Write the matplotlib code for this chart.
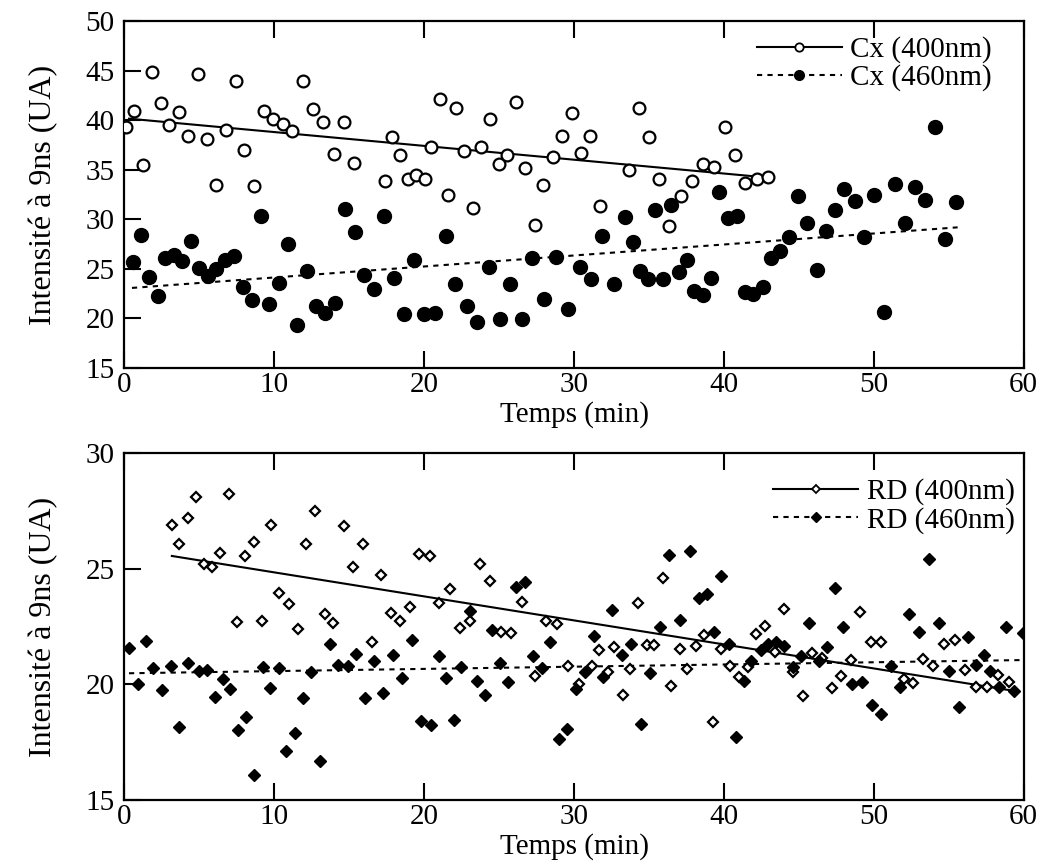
import matplotlib
matplotlib.use('Agg')
import matplotlib.pyplot as plt
from matplotlib.lines import Line2D

plt.rcParams['font.family'] = ['Liberation Serif', 'DejaVu Serif']
plt.rcParams['mathtext.fontset'] = 'stix'

# --- données ---
# Cx 400 nm (cercles vides)
cx400_t = [0.1, 0.63, 1.25, 1.81, 2.41, 2.99, 3.65, 4.21, 4.88, 5.48, 6.1, 6.75, 7.41, 7.99,
           8.63, 9.32, 9.92, 10.59, 11.21, 11.92, 12.59, 13.25, 13.97, 14.65, 15.32, 17.37,
           17.88, 18.41, 18.92, 19.48, 20.03, 20.48, 21.08, 21.59, 22.15, 22.65, 23.25, 23.81,
           24.37, 24.97, 25.55, 26.15, 26.72, 27.37, 27.92, 28.59, 29.21, 29.85, 30.45, 31.08,
           31.75, 33.7, 34.37, 35.03, 35.7, 36.37, 37.15, 37.85, 38.59, 39.37, 40.08, 40.77,
           41.43, 42.19, 42.97]
cx400_i = [39.26, 40.94, 35.5, 44.83, 41.7, 39.5, 40.87, 38.42, 44.66, 38.08, 33.5, 39.02, 43.99,
           36.94, 33.32, 40.94, 40.13, 39.63, 38.92, 43.99, 41.11, 39.8, 36.61, 39.77, 35.67,
           33.82, 38.35, 36.44, 34.06, 34.49, 34.06, 37.34, 42.15, 32.48, 41.21, 36.84, 31.14,
           37.34, 40.13, 35.6, 36.44, 41.87, 35.17, 29.46, 33.5, 36.33, 38.42, 40.7, 36.68,
           38.42, 31.3, 35.0, 41.21, 38.35, 34.06, 29.36, 32.38, 33.89, 35.6, 35.25, 39.29,
           36.5, 33.7, 34.06, 34.22]

# Cx 460 nm (cercles pleins)
cx460_t = [0.55, 1.08, 1.63, 2.21, 2.7, 3.3, 3.81, 4.41, 4.99, 5.55, 6.1, 6.7, 7.32, 7.88, 8.48,
           9.1, 9.65, 10.32, 10.88, 11.52, 12.15, 12.77, 13.37, 14.03, 14.7, 15.37, 15.97, 16.63,
           17.3, 17.97, 18.63, 19.3, 19.99, 20.7, 21.43, 22.08, 22.85, 23.55, 24.3, 25.03, 25.75,
           26.5, 27.21, 28.03, 28.81, 29.59, 30.39, 31.15, 31.88, 32.7, 33.43, 33.92, 34.41,
           34.95, 35.43, 35.97, 36.48, 36.99, 37.55, 38.03, 38.59, 39.15, 39.7, 40.25, 40.85,
           41.4, 41.97, 42.59, 43.15, 43.75, 44.32, 44.92, 45.52, 46.19, 46.81, 47.43, 48.03,
           48.72, 49.37, 50.03, 50.7, 51.41, 52.08, 52.75, 53.41, 54.1, 54.77, 55.48]
cx460_i = [25.66, 28.38, 24.19, 22.24, 26.1, 26.44, 25.77, 27.77, 25.1, 24.32, 25.0, 25.93, 26.26,
           23.18, 21.9, 30.29, 21.5, 23.59, 27.54, 19.32, 24.82, 21.23, 20.56, 21.6, 31.04, 28.72,
           24.35, 22.98, 30.29, 24.09, 20.46, 25.93, 20.46, 20.5, 28.28, 23.5, 21.23, 19.66, 25.16,
           19.9, 23.5, 19.9, 26.1, 21.97, 26.2, 20.97, 25.2, 24.0, 28.35, 23.44, 30.19, 27.68,
           24.82, 24.02, 30.97, 24.02, 31.47, 24.65, 25.86, 22.74, 22.4, 24.09, 32.75, 30.12,
           30.29, 22.68, 22.48, 23.18, 26.1, 26.77, 28.22, 32.31, 29.63, 24.92, 28.78, 30.97,
           33.08, 31.8, 28.25, 32.48, 20.63, 33.59, 29.63, 33.21, 31.9, 39.29, 28.05, 31.75]

# RD 400 nm (losanges vides)
rd400_t = [3.16, 3.67, 4.23, 4.78, 5.32, 5.87, 6.39, 6.99, 7.5, 8.06, 8.66, 9.18, 9.8, 10.33,
           10.96, 11.58, 12.14, 12.74, 13.37, 13.93, 14.64, 15.26, 15.91, 16.53, 17.14, 17.76,
           18.38, 19.05, 19.65, 20.39, 21.02, 21.73, 22.4, 23.04, 23.71, 24.38, 25.12, 25.79,
           26.52, 27.41, 28.13, 28.84, 29.62, 30.31, 31.2, 31.69, 32.25, 32.7, 33.28, 33.75,
           34.3, 34.86, 35.37, 35.93, 36.44, 37.04, 37.56, 38.11, 38.68, 39.28, 39.83, 40.43,
           41.02, 41.6, 42.17, 42.73, 43.4, 44.0, 44.63, 45.25, 45.9, 46.52, 47.19, 47.81,
           48.46, 49.08, 49.82, 50.47, 52.03, 52.65, 53.32, 53.95, 54.66, 55.4, 56.11, 56.82,
           57.56, 58.29, 59.01]
rd400_i = [26.89, 26.07, 27.2, 28.11, 25.19, 25.08, 25.66, 28.21, 22.71, 25.55, 26.17, 22.75,
           26.89, 23.93, 23.46, 22.39, 26.07, 27.49, 23.03, 22.64, 26.85, 25.06, 26.07, 21.82,
           24.73, 23.1, 22.74, 23.36, 25.62, 25.55, 23.5, 24.12, 22.45, 22.74, 25.2, 24.48,
           22.27, 22.22, 23.57, 20.36, 22.75, 22.59, 20.8, 20.0, 20.8, 21.48, 20.54, 21.6,
           19.54, 20.66, 23.52, 21.7, 21.7, 24.58, 19.93, 21.53, 20.66, 21.66, 22.13, 18.36,
           21.53, 20.8, 20.33, 20.76, 22.16, 22.53, 21.41, 23.24, 20.54, 19.49, 21.34, 21.12,
           19.83, 20.36, 21.05, 23.14, 21.82, 21.82, 20.22, 20.07, 21.09, 20.8, 21.75, 21.9,
           20.6, 19.87, 19.9, 20.4, 20.09]

# RD 460 nm (losanges pleins)
rd460_t = [0.32, 0.88, 1.42, 1.93, 2.53, 3.11, 3.65, 4.23, 4.94, 5.5, 6.01, 6.57, 7.06, 7.57,
           8.13, 8.66, 9.22, 9.73, 10.33, 10.8, 11.36, 11.92, 12.47, 13.03, 13.7, 14.26, 14.9,
           15.47, 16.04, 16.64, 17.27, 17.94, 18.54, 19.16, 19.77, 20.48, 20.97, 21.44, 21.99,
           22.49, 23.04, 23.51, 24.05, 24.52, 25.07, 25.61, 26.12, 26.72, 27.24, 27.84, 28.42,
           28.98, 29.53, 30.13, 30.76, 31.32, 31.96, 32.54, 33.21, 33.77, 34.48, 35.08, 35.75,
           36.37, 37.04, 37.71, 38.31, 38.88, 39.34, 39.83, 40.32, 40.84, 41.35, 41.8, 42.51,
           42.96, 43.51, 44.0, 44.63, 45.18, 45.7, 46.34, 46.9, 47.41, 47.93, 48.57, 49.2,
           49.87, 50.49, 51.16, 51.76, 52.36, 52.99, 53.66, 54.33, 55.0, 55.67, 56.29, 56.84,
           57.34, 57.78, 58.34, 58.83, 59.34, 59.95]
rd460_i = [21.56, 20.0, 21.87, 20.69, 19.75, 20.79, 18.17, 20.93, 20.59, 20.64, 19.46, 20.22,
           19.78, 18.02, 18.6, 16.08, 20.76, 19.83, 20.69, 17.12, 17.88, 19.39, 20.52, 16.7,
           21.74, 20.83, 20.79, 21.31, 19.42, 21.02, 19.61, 21.27, 20.29, 21.92, 18.41, 18.24,
           21.24, 20.29, 18.46, 20.73, 23.18, 20.16, 19.54, 22.35, 20.93, 20.11, 24.22, 24.44,
           21.23, 20.71, 21.84, 17.62, 18.07, 19.8, 20.52, 22.1, 20.31, 23.21, 21.27, 21.74,
           18.27, 20.5, 22.49, 25.59, 22.78, 25.76, 23.72, 23.91, 22.27, 24.68, 21.74, 17.71,
           20.16, 21.0, 21.48, 21.73, 21.84, 21.66, 20.76, 21.22, 22.64, 21.02, 21.63, 24.15,
           22.49, 20.0, 20.09, 19.1, 18.72, 20.79, 19.9, 23.04, 22.27, 25.42, 22.64, 20.59,
           19.0, 22.06, 20.84, 21.28, 20.59, 19.9, 22.46, 19.72, 22.23]

# droites de tendance (extrémités)
cx400_fit_t, cx400_fit_i = [0.3, 43.0], [40.15, 34.2]
cx460_fit_t, cx460_fit_i = [0.5, 55.6], [23.08, 29.19]
rd400_fit_t, rd400_fit_i = [3.16, 59.34], [25.55, 19.72]
rd460_fit_t, rd460_fit_i = [0.3, 59.9], [20.48, 21.05]

xticks = [0, 10, 20, 30, 40, 50, 60]
top_yticks = [15, 20, 25, 30, 35, 40, 45, 50]
bot_yticks = [15, 20, 25, 30]

FS = 21
DOT = (0, (2.5, 2.5))

fig = plt.figure(figsize=(10.47, 8.68), dpi=100)
ax1 = fig.add_axes([0.1189, 0.5760, 0.8587, 0.3998])
ax2 = fig.add_axes([0.1189, 0.0783, 0.8587, 0.3998])


def style(ax, yticks, ylim):
    ax.set_xlim(0, 60)
    ax.set_ylim(*ylim)
    ax.set_xticks(xticks)
    ax.set_yticks(yticks)
    ax.tick_params(direction='in', length=12, width=1.5, labelsize=FS,
                   top=True, right=False, pad=7)
    ax.tick_params(axis='x', pad=3)
    for s in ax.spines.values():
        s.set_linewidth(1.6)
    ax.set_xlabel('Temps (min)', fontsize=FS, labelpad=2)
    ax.set_ylabel('Intensité à 9ns (UA)', fontsize=23, labelpad=20)


# --- panneau Cx ---
ax1.plot(cx400_t, cx400_i, 'o', ms=8.5, mfc='white', mec='black', mew=1.6, zorder=3)
ax1.plot(cx460_t, cx460_i, 'o', ms=10, mfc='black', mec='black', zorder=3)
ax1.plot(cx400_fit_t, cx400_fit_i, '-', color='black', lw=1.5, zorder=2)
ax1.plot(cx460_fit_t, cx460_fit_i, color='black', lw=1.5, ls=DOT, zorder=2)
style(ax1, top_yticks, (15, 50))

h1 = [Line2D([], [], color='black', lw=1.5, marker='o', ms=6, mfc='white', mec='black', mew=1.3),
      Line2D([], [], color='black', lw=1.5, ls=DOT, marker='o', ms=7, mfc='black', mec='black')]
ax1.legend(h1, ['Cx (400nm)', 'Cx (460nm)'], loc='upper right', frameon=False, fontsize=FS,
           handlelength=2.9, handletextpad=0.3, labelspacing=0.05,
           bbox_to_anchor=(0.978, 0.99), borderaxespad=0)

# --- panneau RD ---
ax2.plot(rd400_t, rd400_i, 'D', ms=5.5, mfc='white', mec='black', mew=1.6, zorder=3)
ax2.plot(rd460_t, rd460_i, 'D', ms=6.5, mfc='black', mec='black', zorder=3)
ax2.plot(rd400_fit_t, rd400_fit_i, '-', color='black', lw=1.5, zorder=2)
ax2.plot(rd460_fit_t, rd460_fit_i, color='black', lw=1.5, ls=DOT, zorder=2)
style(ax2, bot_yticks, (15, 30))

h2 = [Line2D([], [], color='black', lw=1.5, marker='D', ms=4.5, mfc='white', mec='black', mew=1.3),
      Line2D([], [], color='black', lw=1.5, ls=DOT, marker='D', ms=5.5, mfc='black', mec='black')]
ax2.legend(h2, ['RD (400nm)', 'RD (460nm)'], loc='upper right', frameon=False, fontsize=FS,
           handlelength=2.9, handletextpad=0.3, labelspacing=0.05,
           bbox_to_anchor=(1.003, 0.96), borderaxespad=0)

fig.savefig('out.png', dpi=100)
